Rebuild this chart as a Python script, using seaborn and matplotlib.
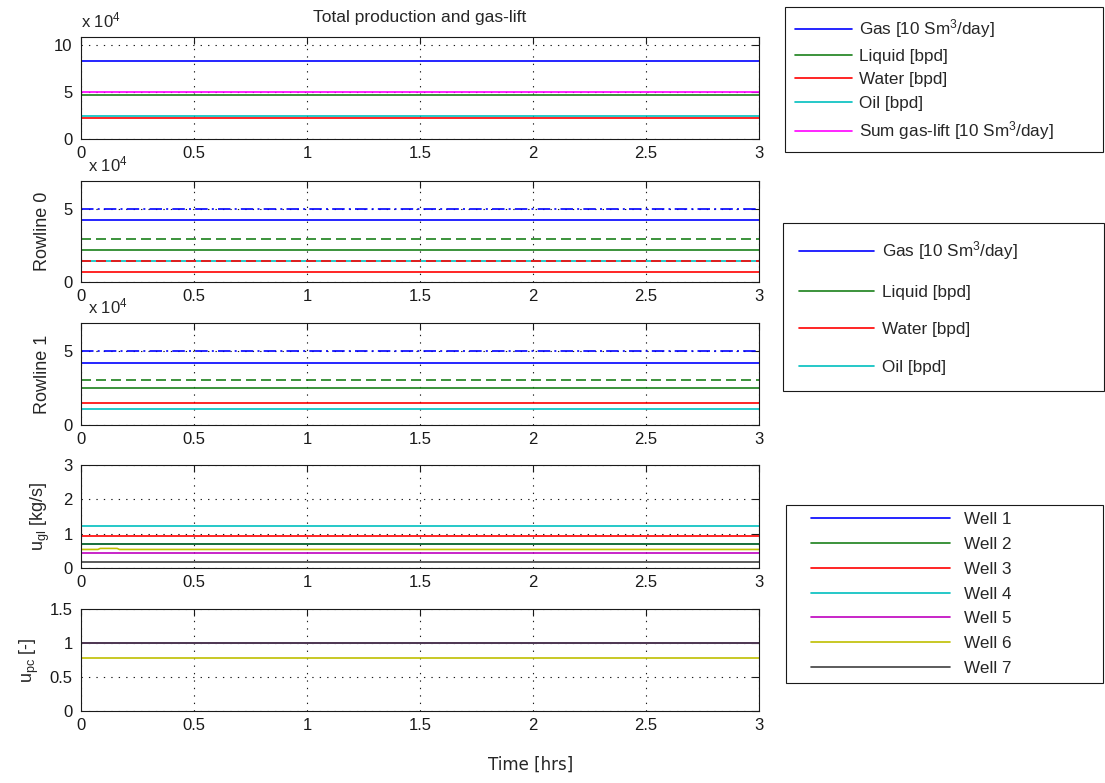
import numpy as np
import matplotlib
matplotlib.use("Agg")
import matplotlib.pyplot as plt
import seaborn as sns
from matplotlib.legend_handler import HandlerLine2D

# ---------------- data ----------------
time_span = [0.0, 3.0]                    # hours
time_ticks = [0, 0.5, 1, 1.5, 2, 2.5, 3]

# Total production and gas-lift (values x 1e4)
total_labels = ["Gas [10 Sm$^3$/day]", "Liquid [bpd]", "Water [bpd]",
                "Oil [bpd]", "Sum gas-lift [10 Sm$^3$/day]"]
total_values = [8.30, 4.65, 2.27, 2.41, 4.97]

# Rowlines (values x 1e4)
rowline_labels = ["Gas [10 Sm$^3$/day]", "Liquid [bpd]", "Water [bpd]", "Oil [bpd]"]
rowline0_values = [4.23, 2.15, 0.68, 1.40]
rowline0_limits = [5.00, 2.94, 1.40]      # gas, liquid, water constraints
rowline1_values = [4.22, 2.48, 1.47, 1.11]
rowline1_limits = [5.00, 3.02]            # gas, liquid constraints

# Wells
well_labels = ["Well 1", "Well 2", "Well 3", "Well 4", "Well 5", "Well 6", "Well 7"]
well_gl = [0.70, 0.69, 0.92, 1.22, 0.43, 0.54, 0.17]      # u_gl [kg/s]
well6_gl_time = [0.0, 0.075, 0.085, 0.160, 0.170, 3.0]
well6_gl_vals = [0.54, 0.54, 0.57, 0.57, 0.54, 0.54]
well_pc = [1.0, 1.0, 1.0, 1.0, 1.0, 0.78, 1.0]            # u_pc [-]

# ---------------- styling ----------------
c_prod = [(0, 0, 1), (0.1, 0.5, 0.1), (1, 0, 0), (0, 0.75, 0.75), (1, 0, 1)]
c_well = [(0, 0, 1), (0.1, 0.5, 0.1), (1, 0, 0), (0, 0.75, 0.75),
          (0.75, 0, 0.75), (0.75, 0.75, 0), (0.25, 0.25, 0.25)]
dashdot = (0, (7.5, 2.5, 1.2, 2.5))
dashed = (0, (6, 3))
LW = 1.2

sns.set_theme(style="white")
plt.rcParams["font.family"] = ["Liberation Sans", "DejaVu Sans"]
plt.rcParams["mathtext.fontset"] = "custom"
plt.rcParams["mathtext.rm"] = "Liberation Sans"
plt.rcParams["mathtext.it"] = "Liberation Sans:italic"
plt.rcParams["mathtext.bf"] = "Liberation Sans:bold"

W, H = 1105, 783
fig = plt.figure(figsize=(W / 100, H / 100), dpi=100)
fig.patch.set_facecolor("white")


def px_axes(top, bottom, left=81, right=759):
    return fig.add_axes([left / W, 1 - bottom / H, (right - left) / W, (bottom - top) / H])


def hline(ax, value, color, ls="-", x=None, y=None):
    xs = time_span if x is None else x
    ys = [value, value] if y is None else y
    sns.lineplot(x=xs, y=ys, ax=ax, color=color, linestyle=ls, linewidth=LW,
                 estimator=None, legend=False)
    return ax.lines[-1]


def style_axes(ax, ylim, yticks):
    ax.set_xlim(time_span)
    ax.set_ylim(ylim)
    ax.set_xticks(time_ticks)
    ax.set_xticklabels(["%g" % t for t in time_ticks])
    ax.set_yticks(yticks)
    ax.set_yticklabels(["%g" % v for v in yticks])
    ax.tick_params(direction="in", top=True, right=True, length=5, width=0.8,
                   labelsize=12, colors="k")
    ax.tick_params(axis="x", pad=5)
    ax.tick_params(axis="y", pad=6)
    ax.grid(True, color="k", linestyle=(0, (1.2, 5.5)), linewidth=0.8)
    for s in ax.spines.values():
        s.set_color("k")
        s.set_linewidth(0.8)
    ax.set_facecolor("white")


def exp_label(ax, h_px, dx_px=0):
    ax.text(dx_px / 678, 1 + 10 / h_px, r"x 10$^4$", transform=ax.transAxes,
            ha="left", va="baseline", fontsize=12)


# ---------------- panel 1 ----------------
ax1 = px_axes(37, 139)
h_total = [hline(ax1, v, c) for v, c in zip(total_values, c_prod)]
style_axes(ax1, (0, 10.9), [0, 5, 10])
exp_label(ax1, 102)
ax1.set_title("Total production and gas-lift", fontsize=12.5, pad=11)

# ---------------- panel 2 ----------------
ax2 = px_axes(181, 282)
h_row = [hline(ax2, v, c) for v, c in zip(rowline0_values, c_prod[:4])]
hline(ax2, rowline0_limits[0], c_prod[0], dashdot)
hline(ax2, rowline0_limits[1], c_prod[1], dashed)
hline(ax2, rowline0_limits[2], c_prod[2], dashed)
style_axes(ax2, (0, 6.88), [0, 5])
exp_label(ax2, 101, dx_px=7)
ax2.set_ylabel("Rowline 0", fontsize=13, labelpad=9)

# ---------------- panel 3 ----------------
ax3 = px_axes(323, 425)
for v, c in zip(rowline1_values, c_prod[:4]):
    hline(ax3, v, c)
hline(ax3, rowline1_limits[0], c_prod[0], dashdot)
hline(ax3, rowline1_limits[1], c_prod[1], dashed)
style_axes(ax3, (0, 6.9), [0, 5])
exp_label(ax3, 102, dx_px=7)
ax3.set_ylabel("Rowline 1", fontsize=13, labelpad=9)

# ---------------- panel 4 ----------------
ax4 = px_axes(465, 568)
h_well = []
for i, (v, c) in enumerate(zip(well_gl, c_well)):
    if i == 5:
        h_well.append(hline(ax4, None, c, x=well6_gl_time, y=well6_gl_vals))
    else:
        h_well.append(hline(ax4, v, c))
style_axes(ax4, (0, 3), [0, 1, 2, 3])
ax4.set_ylabel(r"u$_{\mathrm{gl}}$ [kg/s]", fontsize=13, labelpad=8)

# ---------------- panel 5 ----------------
ax5 = px_axes(609, 711)
for v, c in zip(well_pc, c_well):
    hline(ax5, v, c)
style_axes(ax5, (0, 1.5), [0, 0.5, 1, 1.5])
ax5.set_ylabel(r"u$_{\mathrm{pc}}$ [-]", fontsize=13, labelpad=6)

fig.text(531 / W, 1 - 765 / H, "Time [hrs]", ha="center", va="center",
         fontsize=12, family="DejaVu Sans")


# ---------------- legends ----------------
class TrimmedLine(HandlerLine2D):
    def __init__(self, trim=0.0, **kw):
        super().__init__(**kw)
        self.trim = trim

    def get_xdata(self, legend, xdescent, ydescent, width, height, fontsize):
        xd, xm = super().get_xdata(legend, xdescent, ydescent, width, height, fontsize)
        xd = np.asarray(xd, dtype=float).copy()
        xd[0] += self.trim
        return xd, xm


def make_legend(handles, labels, box, **kw):
    x0, top, x1, bottom = box
    leg = fig.legend(handles, labels, loc="upper left",
                     bbox_to_anchor=(x0 / W, 1 - bottom / H, (x1 - x0) / W, (bottom - top) / H),
                     bbox_transform=fig.transFigure, mode="expand", borderaxespad=0,
                     frameon=True, fancybox=False, shadow=False, framealpha=1,
                     edgecolor="k", fontsize=12.3, **kw)
    leg.get_frame().set_linewidth(0.8)
    return leg


make_legend(h_total, total_labels, (785, 7, 1103, 151),
            handlelength=3.35, handletextpad=0.36, borderpad=0.6, labelspacing=0.5)
make_legend(h_row, rowline_labels, (783, 223, 1104, 388),
            handlelength=4.4, handletextpad=0.42, borderpad=0.95, labelspacing=1.32)
make_legend(h_well, well_labels, (786, 505, 1103, 687),
            handlelength=9.2, handletextpad=0.82, borderpad=0.4, labelspacing=0.58,
            handler_map={h: TrimmedLine(trim=13) for h in h_well})

fig.savefig("out.png", dpi=100, facecolor="white")
